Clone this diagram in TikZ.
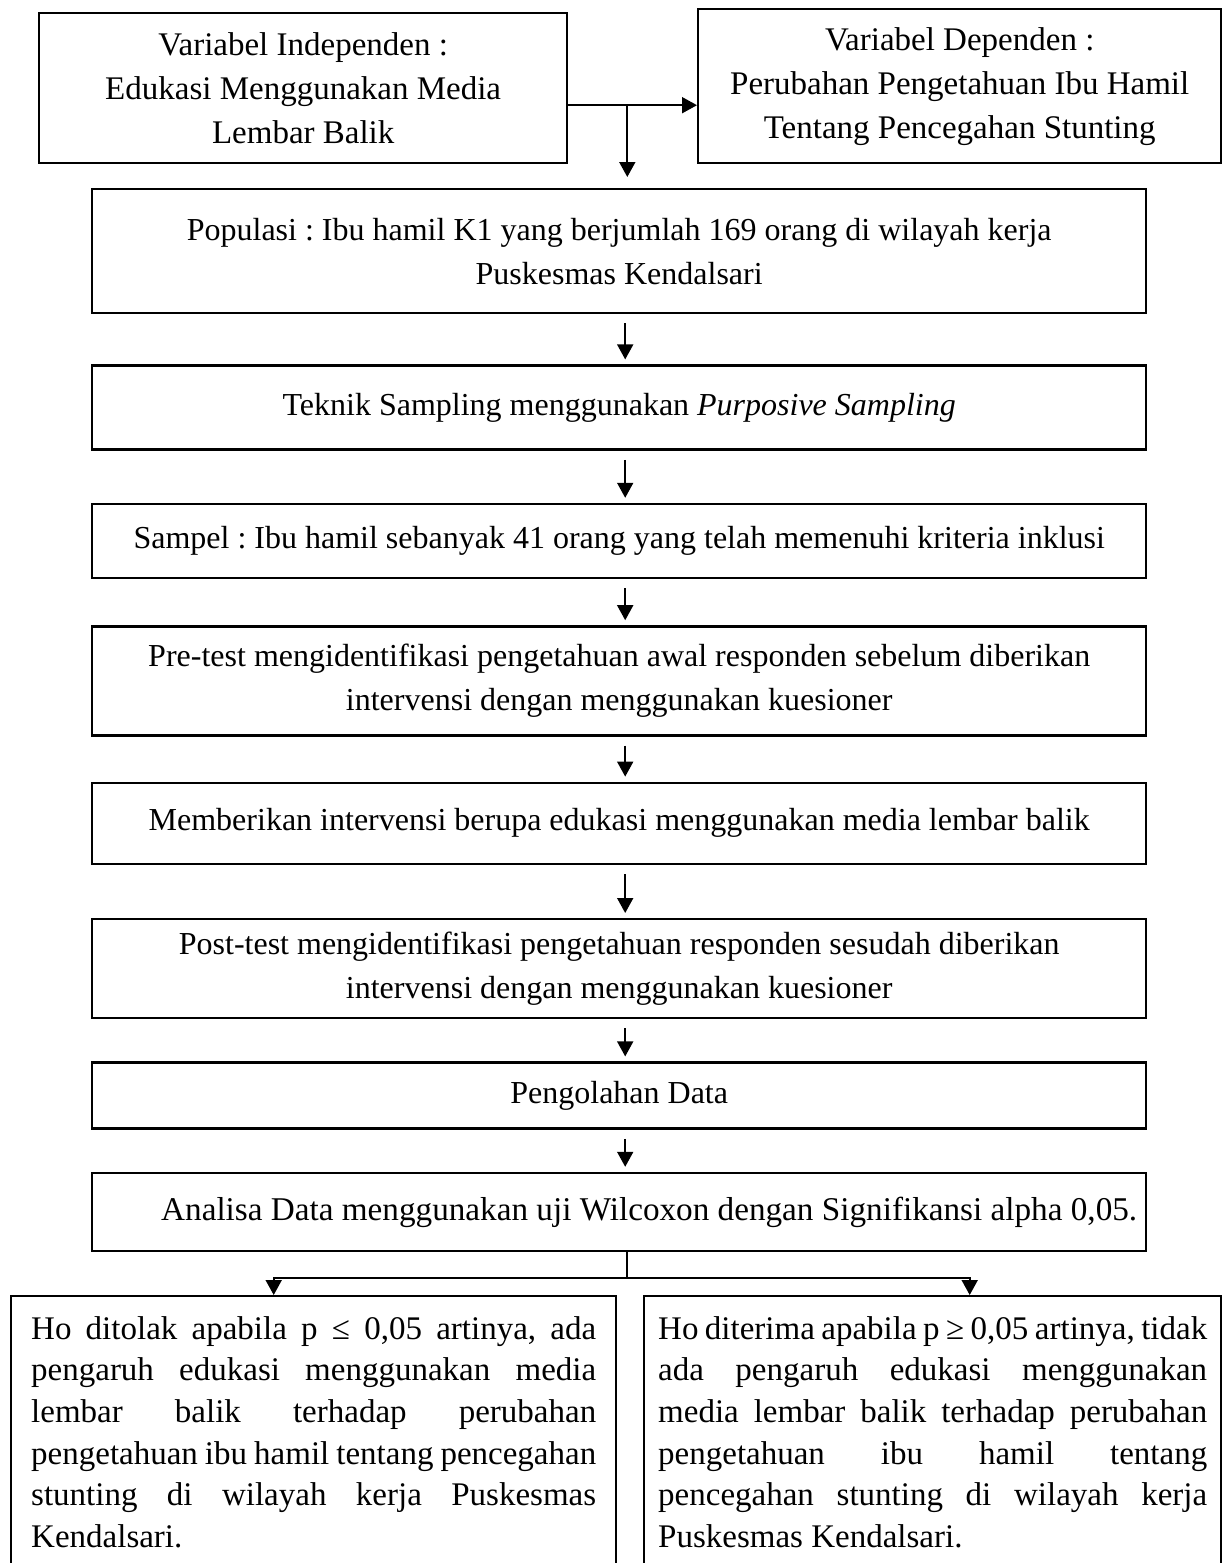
\documentclass[tikz,border=0pt]{standalone}
\usepackage{fontspec}
\setmainfont{Liberation Serif}
\usetikzlibrary{arrows.meta, positioning, calc}
\frenchspacing

\begin{document}
\begin{tikzpicture}[x=0.5pt, y=-0.5pt, node distance=25pt,
  box/.style={rectangle, draw, line width=1.2pt, align=center, inner sep=4pt, font=\fontsize{16.5pt}{22pt}\selectfont},
  stage/.style={box, minimum width=527pt, font=\fontsize{16pt}{22pt}\selectfont},
  hyp/.style={rectangle, draw, line width=1.2pt, align=justify, anchor=north west, inner ysep=10pt,
    font=\fontsize{16.5pt}{20.85pt}\selectfont, execute at begin node={\tolerance=9999\relax}},
  arr/.style={line width=0.9pt, shorten <=4.5pt, shorten >=2.5pt},
  >={Triangle[length=7.5pt, width=8pt]}]
\useasboundingbox (0,0) rectangle (1229,1563);
\clip (0,0) rectangle (1229,1563);
% variabel
\node[box, minimum width=264pt, minimum height=75pt, anchor=north west] (indep) at (38,12) {Variabel Independen :\\ Edukasi Menggunakan Media\\ Lembar Balik};
\node[box, minimum width=261.5pt, minimum height=77pt, anchor=north west] (dep) at (697,8) {Variabel Dependen :\\ Perubahan Pengetahuan Ibu Hamil\\ Tentang Pencegahan Stunting};
% alur penelitian
\node[stage, minimum height=62pt, anchor=north west] (pop) at (91,188) {Populasi : Ibu hamil K1 yang berjumlah 169 orang di wilayah kerja\\ Puskesmas Kendalsari};
\node[stage, minimum height=42pt, below=25pt of pop] (tek) {Teknik Sampling menggunakan \textit{Purposive Sampling}};
\node[stage, minimum height=37pt, below=26pt of tek] (sam) {Sampel : Ibu hamil sebanyak 41 orang yang telah memenuhi kriteria inklusi};
\node[stage, minimum height=54.5pt, below=23pt of sam] (pre) {Pre-test mengidentifikasi pengetahuan awal responden sebelum diberikan\\ intervensi dengan menggunakan kuesioner};
\node[stage, minimum height=40.5pt, below=22.5pt of pre] (memb) {Memberikan intervensi berupa edukasi menggunakan media lembar balik};
\node[stage, minimum height=49.5pt, below=26.5pt of memb] (post) {Post-test mengidentifikasi pengetahuan responden sesudah diberikan\\ intervensi dengan menggunakan kuesioner};
\node[stage, minimum height=33pt, below=21pt of post] (olah) {Pengolahan Data};
\node[stage, minimum height=39pt, below=21pt of olah, font=\fontsize{16.6pt}{22pt}\selectfont] (ana) {\hspace*{30pt}Analisa Data menggunakan uji Wilcoxon dengan Signifikansi alpha 0,05.};
% hipotesis
\node[hyp, text width=282.5pt, inner xsep=10pt] (rej) at (10,1295) {Ho ditolak apabila p ≤ 0,05 artinya, ada\linebreak pengaruh edukasi menggunakan media\linebreak lembar balik terhadap perubahan\linebreak pengetahuan ibu hamil tentang pencegahan\linebreak stunting di wilayah kerja Puskesmas\linebreak Kendalsari.\rule[-15pt]{0pt}{15pt}};
\node[hyp, text width=274.5pt, inner xsep=7pt] (acc) at (643,1295) {Ho diterima apabila p ≥ 0,05 artinya, tidak\linebreak ada pengaruh edukasi menggunakan\linebreak media lembar balik terhadap perubahan\linebreak pengetahuan ibu hamil tentang\linebreak pencegahan stunting di wilayah kerja\linebreak Puskesmas Kendalsari.\rule[-15pt]{0pt}{15pt}};

\draw[->, line width=0.9pt] ([yshift=-8.5pt]indep.east) coordinate (hs) -- (hs -| dep.west);
\coordinate (jn) at ($(hs)!0.458!(hs -| dep.west)$);
\draw[->, line width=0.9pt, shorten >=5.5pt] (jn) -- (jn |- pop.north);
\foreach \a/\b in {pop/tek, tek/sam, sam/pre, pre/memb, memb/post, post/olah, olah/ana}
  \draw[->, arr] ([xshift=3pt]\a.south) -- ([xshift=3pt]\b.north);
\draw[line width=0.9pt] ([xshift=4pt]ana.south) -- ++(0,-13pt) coordinate (split);
\draw[->, line width=0.9pt] (split) -| ([xshift=-20pt]rej.north);
\draw[->, line width=0.9pt] (split) -| ([xshift=18.5pt]acc.north);
\end{tikzpicture}
\end{document}
